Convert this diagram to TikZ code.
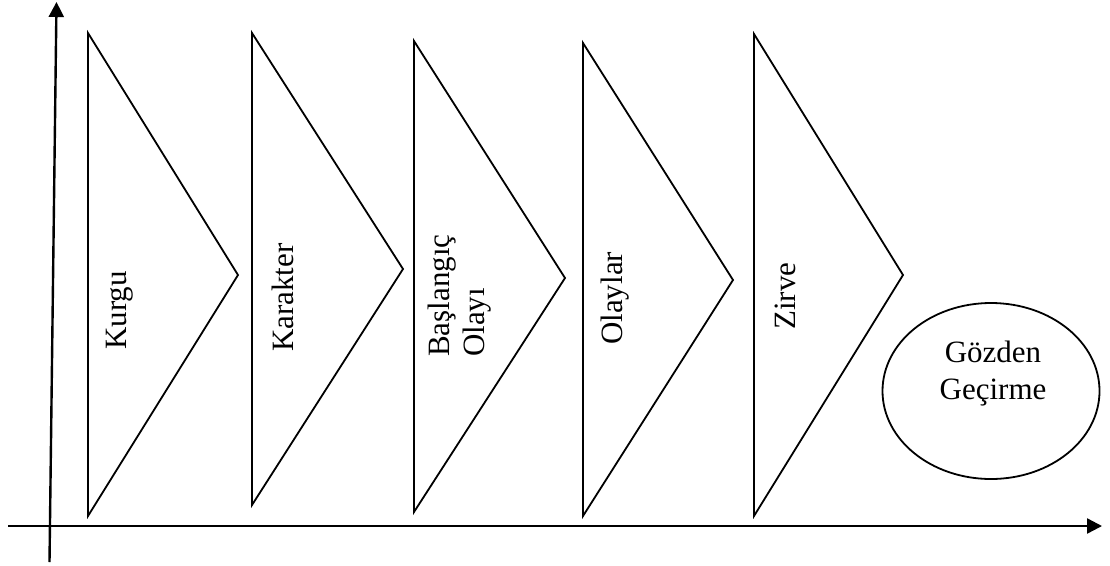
\documentclass[tikz,border=0pt]{standalone}
\usepackage{fontspec}
\setmainfont{Liberation Serif}
\usetikzlibrary{arrows.meta,shapes.geometric}
\tikzset{
  axis/.style={line width=2.4pt,-{Triangle[length=15pt,width=15pt]}},
  stage/.style={line width=1.8pt,line join=miter},
  lbl/.style={font=\fontsize{31}{35}\selectfont,rotate=90,anchor=west,align=left,inner sep=0pt},
  endlbl/.style={font=\fontsize{31}{37}\selectfont,align=center,inner sep=0pt},
}
\begin{document}
\begin{tikzpicture}[x=1pt,y=-1pt]
\useasboundingbox (0,0) rectangle (1110,565);

% axes
\coordinate (yb) at (49.5,562);
\coordinate (yt) at (56.5,2);
\coordinate (xl) at (8,526);
\coordinate (xr) at (1102,526);
\draw[axis] (yb) -- (yt);
\draw[axis] (xl) -- (xr);

% stage chevrons
\draw[stage] (88,33)  -- (238,275) -- (88,516)  -- cycle;
\draw[stage] (252,33) -- (403,269) -- (252,505) -- cycle;
\draw[stage] (414,41) -- (565,278) -- (414,512) -- cycle;
\draw[stage] (583,43) -- (733,280) -- (583,516) -- cycle;
\draw[stage] (754,34) -- (903,275) -- (754,516) -- cycle;

% stage labels (text runs upwards from its start point)
\node[lbl] (kurgu)     at (120,350) {Kurgu};
\node[lbl] (karakter)  at (283,352) {Karakter};
\node[lbl] (baslangic) at (460,357) {Başlangıç\\Olayı};
\node[lbl] (olaylar)   at (615,345) {Olaylar};
\node[lbl] (zirve)     at (785,330) {Zirve};

% final review
\node[ellipse,draw,line width=1.8pt,minimum width=217pt,minimum height=176pt,inner sep=0pt] (gozden) at (991,391) {};
\node[endlbl] (gozdentxt) at (993,374) {Gözden\\Geçirme};
\end{tikzpicture}
\end{document}
